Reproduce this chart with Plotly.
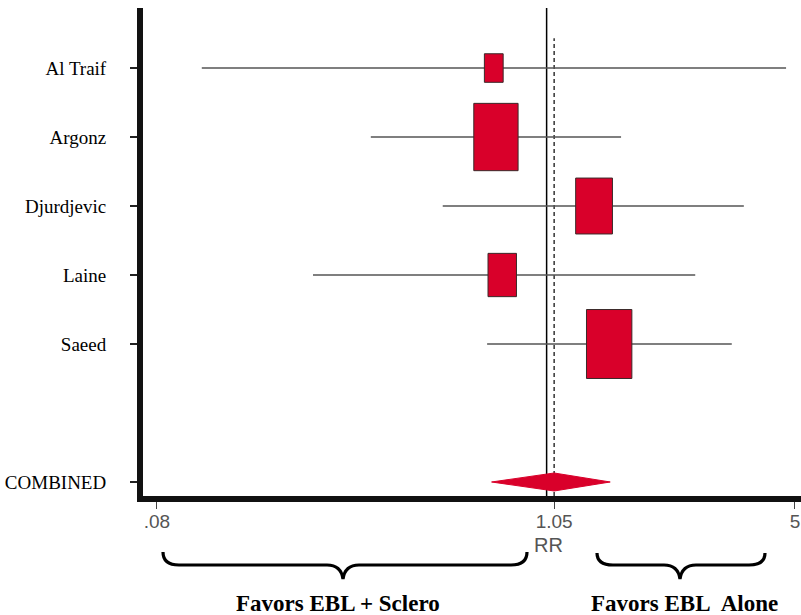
import math
import plotly.graph_objects as go

# ---------------- data ----------------
studies = ["Al Traif", "Argonz", "Djurdjevic", "Laine", "Saeed"]
study_y = [6, 5, 4, 3, 2]
rr = [0.71, 0.72, 1.36, 0.75, 1.50]
ci_low = [0.107, 0.32, 0.51, 0.22, 0.68]
ci_high = [4.72, 1.62, 3.59, 2.62, 3.32]
weights = [5.4, 30.0, 20.7, 12.4, 31.5]

combined_label = "COMBINED"
combined_y = 0
combined_rr = 1.05
combined_low = 0.70
combined_high = 1.51

null_value = 1.0
x_tick_vals = [0.08, 1.05, 5]
x_tick_text = [".08", "1.05", "5"]

# ---------------- layout geometry ----------------
W, H = 801, 615
ML, MR, MT, MB = 143, 0, 8, 119
PW, PH = W - ML - MR, H - MT - MB
x_range = [math.log10(0.0731), math.log10(5.20)]
y_range = [-0.203, 6.87]
px_per_dec = PW / (x_range[1] - x_range[0])
px_per_y = PH / (y_range[1] - y_range[0])

RED = "#d9002a"

fig = go.Figure()

# reference lines
fig.add_trace(go.Scatter(x=[null_value, null_value], y=y_range, mode="lines",
                         line=dict(color="black", width=1.5), hoverinfo="skip"))
fig.add_trace(go.Scatter(x=[combined_rr, combined_rr], y=[y_range[0], 6.43], mode="lines",
                         line=dict(color="#333", width=1.5, dash="4px,3px"), hoverinfo="skip"))

# confidence intervals
for yi, lo, hi in zip(study_y, ci_low, ci_high):
    fig.add_trace(go.Scatter(x=[lo, hi], y=[yi, yi], mode="lines",
                             line=dict(color="#555", width=1.6), hoverinfo="skip"))

# weighted boxes
for name, yi, r, w in zip(studies, study_y, rr, weights):
    h_px = 12.29 * math.sqrt(w)
    w_px = h_px / 1.52
    fx = 10 ** ((w_px / 2) / px_per_dec)
    dy = (h_px / 2) / px_per_y
    x0, x1 = r / fx, r * fx
    fig.add_trace(go.Scatter(x=[x0, x1, x1, x0, x0], y=[yi - dy, yi - dy, yi + dy, yi + dy, yi - dy],
                             mode="lines", fill="toself", fillcolor=RED,
                             line=dict(color="#3a2a2a", width=1), name=name, hoverinfo="name"))

# combined diamond
dh = 9 / px_per_y
fig.add_trace(go.Scatter(x=[combined_low, combined_rr, combined_high, combined_rr, combined_low],
                         y=[combined_y, combined_y + dh, combined_y, combined_y - dh, combined_y],
                         mode="lines", fill="toself", fillcolor=RED,
                         line=dict(color=RED, width=1), name=combined_label, hoverinfo="name"))


def px(xp):
    return (xp - ML) / PW


def py(yp):
    return (H - MB - yp) / PH


def brace(x0, x1, xm, ytop, yline, ytip):
    pts = [
        f"M {px(x0)},{py(ytop)}",
        f"Q {px(x0)},{py(yline)} {px(x0 + 16)},{py(yline)}",
        f"L {px(xm - 16)},{py(yline)}",
        f"Q {px(xm - 2)},{py(yline)} {px(xm)},{py(ytip)}",
        f"Q {px(xm + 2)},{py(yline)} {px(xm + 16)},{py(yline)}",
        f"L {px(x1 - 16)},{py(yline)}",
        f"Q {px(x1)},{py(yline)} {px(x1)},{py(ytop)}",
    ]
    return dict(type="path", path=" ".join(pts), xref="paper", yref="paper",
                line=dict(color="black", width=3.2))


def label(text, x, y, font):
    return dict(text=text, x=px(x), y=py(y), xref="paper", yref="paper", showarrow=False,
                xanchor="center", yanchor="middle", font=font)


serif_bold = dict(family="Liberation Serif", size=23, color="black")
fig.update_layout(
    shapes=[brace(163, 527, 343, 552, 565, 579), brace(597, 765, 680, 553, 565, 579)],
    annotations=[
        label("RR", 548, 545, dict(family="Liberation Sans", size=20, color="#555")),
        label("<b>Favors EBL + Sclero</b>", 338, 603, serif_bold),
        label("<b>Favors EBL\u00a0 Alone</b>", 684, 603, serif_bold),
    ],
)

fig.update_xaxes(type="log", range=x_range, tickvals=x_tick_vals, ticktext=x_tick_text,
                 ticks="outside", ticklen=7, tickwidth=1, tickcolor="#444",
                 showline=True, linewidth=6, linecolor="#111", showgrid=False, zeroline=False,
                 automargin=False, ticklabelstandoff=-4,
                 tickfont=dict(family="Liberation Sans", size=19, color="#555"))
fig.update_yaxes(range=y_range, tickvals=study_y + [combined_y], ticktext=studies + [combined_label],
                 ticks="outside", ticklen=7, tickwidth=1.5, tickcolor="#222",
                 showline=True, linewidth=6, linecolor="#111", showgrid=False, zeroline=False,
                 ticklabelstandoff=20, automargin=False,
                 tickfont=dict(family="Liberation Serif", size=19, color="black"))

fig.update_layout(width=W, height=H, margin=dict(l=ML, r=MR, t=MT, b=MB, pad=0, autoexpand=False),
                  plot_bgcolor="white", paper_bgcolor="white", showlegend=False)

fig.write_html("out.html", config={"displayModeBar": False},
               post_script="document.body.style.margin='0';document.body.style.overflow='hidden';")
